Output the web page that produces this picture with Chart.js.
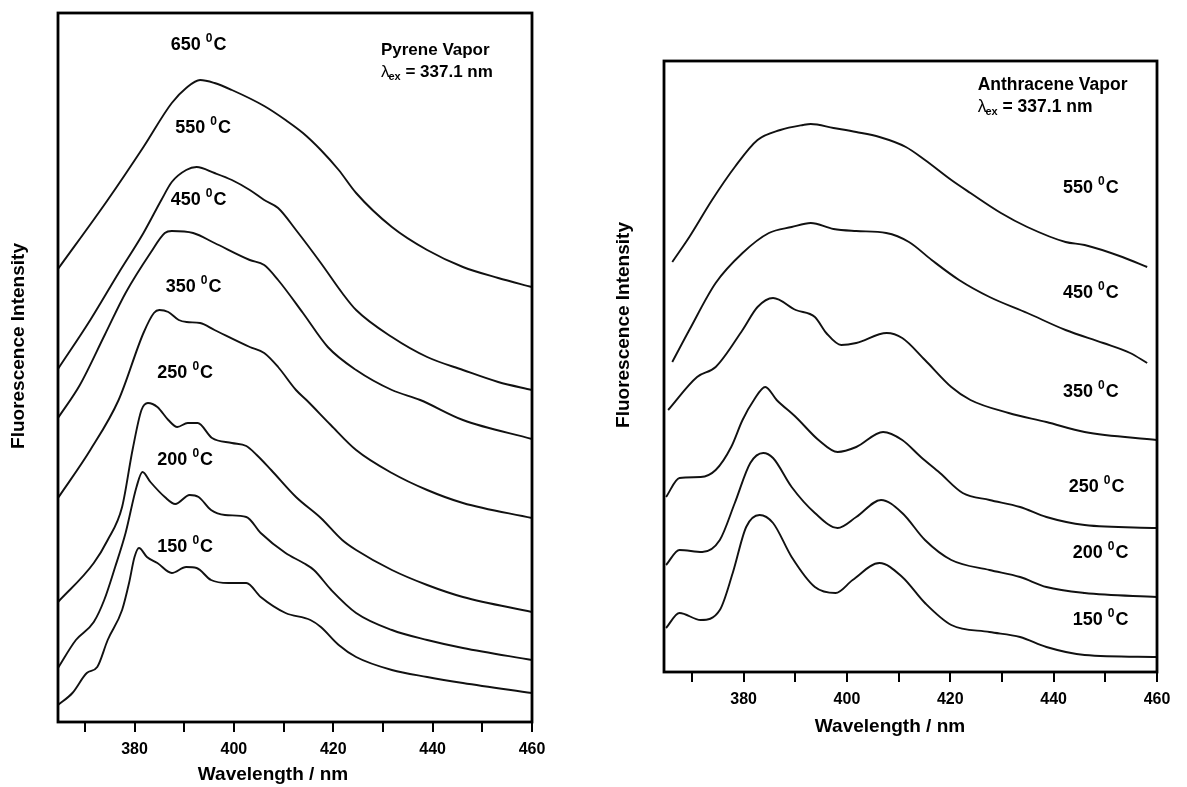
<!DOCTYPE html>
<html>
<head>
<meta charset="utf-8">
<script src="https://cdn.jsdelivr.net/npm/chart.js@4.4.1/dist/chart.umd.min.js"></script>
<style>
  body { margin: 0; background: #fff; width: 1187px; height: 787px; overflow: hidden; position: relative; }
  #pyrene { position: absolute; left: 0; top: 0; }
  #anthracene { position: absolute; left: 590px; top: 0; }
</style>
</head>
<body>
<canvas id="pyrene" width="560" height="787"></canvas>
<canvas id="anthracene" width="597" height="740"></canvas>
<script>
// wavelength ticks (nm), labels only every 20
var tickValues = [370, 380, 390, 400, 410, 420, 430, 440, 450, 460];

// Pyrene vapor, [wavelength nm, intensity (arb., offset traces)]
var pyreneTemps = ['650', '550', '450', '350', '250', '200', '150'];
var pyrene650 = [[364.6,453],[374.6,522],[381.8,575],[387.5,619],[390.4,634],[393.2,642],[396.1,639],[399.6,632],[406.1,616],[410.4,602],[413.9,589],[417.5,572],[421.1,552],[424.6,529],[431.8,495],[438.9,472],[446.1,455],[453.2,444],[460,435]];
var pyrene550 = [[364.6,353],[371.1,402],[376.8,449],[381.8,489],[385.4,522],[387.5,540],[390.4,552],[392.5,555],[396.1,549],[399.6,542],[403.2,532],[406.1,522],[408.9,514],[412.5,492],[417.5,459],[421.8,429],[424.6,412],[431.8,385],[438.9,365],[446.1,352],[453.2,340],[460,332]];
var pyrene450 = [[364.6,304],[369,337],[374,387],[378.2,429],[383.2,469],[386.1,489],[387.5,491],[391.8,489],[396.1,479],[403.2,462],[406.1,457],[408.9,442],[413.9,409],[418.9,375],[424.6,352],[431.8,332],[437.5,322],[446.1,302],[460,283]];
var pyrene350 = [[364.6,224],[371.1,272],[376.8,322],[381.8,389],[383.9,409],[385,412],[386.8,410],[388.9,402],[390.5,400],[393.2,399],[396.1,392],[403.2,375],[406.1,369],[408.9,355],[412.5,332],[414.6,322],[419.5,297],[424.6,272],[431.8,249],[438.9,232],[446.1,219],[460,204]];
var pyrene250 = [[364.6,120],[371.8,159],[374.6,182],[377.5,215],[379.6,272],[381.4,312],[382.7,319],[384.6,315],[386.8,302],[388.6,295],[390.7,299],[392.7,299],[395.6,284],[399.6,279],[402.5,276],[404.6,267],[407.5,252],[412.5,225],[417.5,204],[421.8,182],[424.6,172],[431.8,152],[438.9,137],[446.1,125],[460,110]];
var pyrene200 = [[364.6,54],[368.2,82],[371.8,100],[373.9,122],[376.1,155],[378.2,189],[380.4,235],[381.6,250],[383.2,240],[386.1,225],[388.2,218],[391.1,227],[392.9,225],[395.4,212],[398.2,207],[402.5,205],[405.4,189],[410.4,169],[414,159],[416.1,152],[419.6,132],[424.6,109],[431.8,92],[438.9,82],[446.1,74],[460,62]];
var pyrene150 = [[364.6,17],[367.5,29],[370.4,49],[372.5,55],[374.6,82],[377.5,112],[378.9,139],[380,165],[380.9,174],[382.5,165],[384.6,159],[387.5,149],[390.4,155],[392.5,154],[395.4,142],[398.9,139],[402.5,139],[405.4,125],[410.4,109],[415.4,102],[417.5,95],[421.1,77],[424.6,65],[431.8,52],[438.9,45],[446.1,39],[460,29]];

// Anthracene vapor
var anthraceneTemps = ['550', '450', '350', '250', '200', '150'];
var anthracene550 = [[366.2,410],[369.5,435],[373.9,472],[378.3,505],[382.7,532],[387.1,542],[391.5,547],[393,548],[397.4,544],[401.8,540],[406.3,535],[411.4,525],[415.1,512],[420.2,492],[423.9,479],[429.8,459],[434.9,445],[442.3,430],[446,427],[453.3,415],[458.1,405]];
var anthracene450 = [[366.2,310],[369.5,342],[374.6,389],[379.8,419],[384.9,439],[389.3,445],[393,449],[397.4,443],[401.8,441],[407.6,439],[412,430],[416.4,412],[421.7,392],[427.6,375],[434.9,359],[442.3,342],[449.6,329],[454.8,319],[458.1,309]];
var anthracene350 = [[365.4,262],[371,295],[374.6,305],[379.8,342],[382.7,365],[385.7,374],[390.1,362],[393.8,355],[396,339],[398.9,327],[401.8,329],[407.7,339],[410.7,334],[415.1,312],[420.2,285],[423.9,272],[431.3,259],[438.6,250],[446,240],[460,232]];
var anthracene250 = [[365,175],[367.6,194],[371.7,195],[374.6,202],[377.6,225],[379.8,252],[382,272],[384.2,285],[386.4,272],[390.1,255],[394.5,232],[398.2,220],[401.8,225],[407,240],[410.7,232],[414.3,215],[418,199],[422.4,179],[427.6,172],[433.5,165],[438.6,155],[446,147],[460,144]];
var anthracene200 = [[365,107],[367.6,122],[372,120],[375.4,132],[378.3,169],[381.3,209],[383.8,219],[385.7,214],[389.3,185],[393.8,159],[398.2,144],[401.8,155],[406.6,172],[410.7,159],[415.1,132],[420.2,112],[427.6,102],[433.5,95],[438.6,85],[446,79],[460,75]];
var anthracene150 = [[365,44],[367.6,59],[371.7,52],[375.4,62],[377.9,99],[380.5,145],[383.1,157],[385.7,149],[389.3,115],[393.8,85],[397.8,79],[401.1,92],[406.3,109],[410.7,95],[415.1,69],[420.2,47],[427.6,40],[433.5,35],[438.6,25],[446,17],[460,15]];

var FONT = '"Liberation Sans", Arial, Helvetica, sans-serif';

function toPoints(pairs) {
	return pairs.map(function(p){ return {x: p[0], y: p[1]}; });
}

function drawTemp(ctx, label, cx, cy) {
	ctx.font = 'bold 18px ' + FONT;
	var w1 = ctx.measureText(label + ' ').width;
	var w3 = ctx.measureText('C').width;
	ctx.font = 'bold 12px ' + FONT;
	var w2 = ctx.measureText('0').width + 1;
	var x = cx - (w1 + w2 + w3) / 2;
	ctx.font = 'bold 18px ' + FONT;
	ctx.fillText(label + ' ', x, cy);
	ctx.font = 'bold 12px ' + FONT;
	ctx.fillText('0', x + w1, cy - 6);
	ctx.font = 'bold 18px ' + FONT;
	ctx.fillText('C', x + w1 + w2, cy);
}

function drawLambda(ctx, x, y, size) {
	ctx.font = size + 'px ' + FONT;
	ctx.fillText('\u03bb', x, y);
	var w = ctx.measureText('\u03bb').width;
	ctx.font = 'bold ' + Math.round(size * 0.65) + 'px ' + FONT;
	ctx.fillText('ex', x + w - 1, y + 5);
	var w2 = ctx.measureText('ex').width;
	ctx.font = 'bold ' + size + 'px ' + FONT;
	ctx.fillText(' = 337.1 nm', x + w - 1 + w2, y);
}

// frame + text labels, positions given in data units of each chart
function textPlugin(cfg) {
	return {
		id: 'texts',
		afterDraw: function(chart) {
			var ctx = chart.ctx, a = chart.chartArea;
			var xs = chart.scales.x, ys = chart.scales.y;
			ctx.save();
			ctx.strokeStyle = '#000';
			ctx.lineWidth = 2.8;
			ctx.strokeRect(a.left, a.top, a.right - a.left, a.bottom - a.top);

			ctx.fillStyle = '#000';
			ctx.textBaseline = 'middle';
			ctx.textAlign = 'left';
			cfg.temps.forEach(function(t, i){
				drawTemp(ctx, t, xs.getPixelForValue(cfg.tempAt[i][0]), ys.getPixelForValue(cfg.tempAt[i][1]));
			});

			var tx = xs.getPixelForValue(cfg.nameAt[0]);
			ctx.font = 'bold ' + cfg.nameSize + 'px ' + FONT;
			ctx.fillText(cfg.name, tx, ys.getPixelForValue(cfg.nameAt[1]));
			drawLambda(ctx, tx, ys.getPixelForValue(cfg.nameAt[1]) + cfg.lineGap, cfg.nameSize);

			// axis titles
			ctx.font = 'bold 19px ' + FONT;
			ctx.textAlign = 'center';
			ctx.fillText('Wavelength / nm', cfg.xTitle[0], cfg.xTitle[1]);
			ctx.translate(cfg.yTitle[0], cfg.yTitle[1]);
			ctx.rotate(-Math.PI / 2);
			ctx.fillText('Fluorescence Intensity', 0, 0);
			ctx.restore();
		}
	};
}

function makeChart(id, series, yMax, pad, axisH, cfg) {
	var ctx = document.getElementById(id).getContext('2d');
	return new Chart(ctx, {
		type: 'line',
		data: {
			datasets: series.map(function(s){
				return {
					data: toPoints(s),
					borderColor: '#111',
					borderWidth: 1.9,
					pointRadius: 0,
					fill: false,
					cubicInterpolationMode: 'monotone'
				};
			})
		},
		options: {
			responsive: false,
			animation: false,
			layout: { padding: pad },
			plugins: { legend: { display: false }, tooltip: { enabled: false } },
			scales: {
				x: {
					type: 'linear',
					min: 364.6,
					max: 460,
					afterBuildTicks: function(s){ s.ticks = tickValues.map(function(v){ return {value: v}; }); },
					afterFit: function(s){ s.height = axisH; },
					border: { display: false },
					grid: { drawOnChartArea: false, color: '#000', lineWidth: 2, tickLength: 10 },
					ticks: {
						autoSkip: false,
						maxRotation: 0,
						color: '#000',
						padding: 8,
						font: { family: FONT, size: 16, weight: 'bold' },
						callback: function(v){ return v % 20 === 0 ? String(v) : ''; }
					}
				},
				y: { display: false, min: 0, max: yMax }
			}
		},
		plugins: [textPlugin(cfg)]
	});
}

makeChart('pyrene',
	[pyrene650, pyrene550, pyrene450, pyrene350, pyrene250, pyrene200, pyrene150],
	709, {left: 58, right: 28, top: 13, bottom: 0}, 65,
	{
		temps: pyreneTemps,
		tempAt: [[392.9,677],[393.8,594],[392.9,522],[391.9,435],[390.2,349],[390.2,262],[390.2,175]],
		name: 'Pyrene Vapor', nameAt: [429.6, 672], nameSize: 17, lineGap: 22,
		xTitle: [273, 775], yTitle: [19, 346]
	});

makeChart('anthracene',
	[anthracene550, anthracene450, anthracene350, anthracene250, anthracene200, anthracene150],
	611, {left: 74, right: 30, top: 61, bottom: 0}, 68,
	{
		temps: anthraceneTemps,
		tempAt: [[447.2,484],[447.2,379],[447.2,280],[448.3,185],[449.1,119],[449.1,52]],
		name: 'Anthracene Vapor', nameAt: [425.3, 587], nameSize: 17.5, lineGap: 22,
		xTitle: [300, 727], yTitle: [34, 325]
	});
</script>
</body>
</html>
